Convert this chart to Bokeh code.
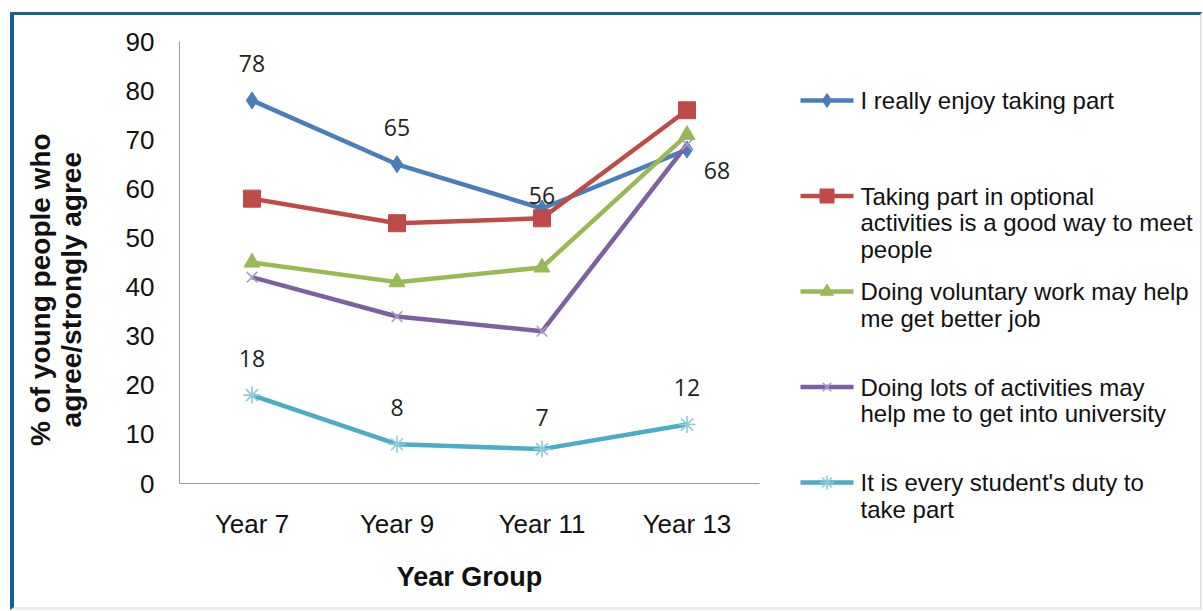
from bokeh.plotting import figure
from bokeh.models import FactorRange, Range1d, FixedTicker, ColumnDataSource
from bokeh.layouts import row
from bokeh.core.properties import value
from bokeh.embed import file_html
from bokeh.resources import INLINE

# ---------------- data ----------------
categories = ["Year 7", "Year 9", "Year 11", "Year 13"]
enjoy = [78, 65, 56, 68]
meet_people = [58, 53, 54, 76]
better_job = [45, 41, 44, 71]
university = [42, 34, 31, 69]
duty = [18, 8, 7, 12]
y_ticks = [0, 10, 20, 30, 40, 50, 60, 70, 80, 90]
series_names = [
    "I really enjoy taking part",
    "Taking part in optional\nactivities is a good way to meet\npeople",
    "Doing voluntary work may help\nme get better job",
    "Doing lots of activities may\nhelp me to get into university",
    "It is every student's duty to\ntake part",
]
y_title_lines = ["% of young people who", "agree/strongly agree"]
x_title = "Year Group"

# ---------------- styles ----------------
line_colors = ["#4A7EBB", "#BE4B48", "#98B954", "#7D60A0", "#4BACC6"]
marker_types = ["diamond", "square", "triangle", "x", "asterisk"]
marker_fill = ["#4A7EBB", "#BE4B48", "#98B954", None, None]
marker_line = ["#4A7EBB", "#BE4B48", "#98B954", "#A99BC5", "#8DCADB"]
marker_size = [17, 17, 16, 15, 17]
marker_lw = [1, 1, 1, 1.6, 1.6]
series = [enjoy, meet_people, better_job, university, duty]

FONT = "Liberation Sans"
TXT = "#111111"

FR_L, FR_R, FR_T, FR_B = 179, 758.5, 41, 483
SPLIT = 775  # page x where the legend panel starts


def no_align(fig):
    if "frame_align" in fig.properties():
        fig.frame_align = False


p = figure(
    x_range=FactorRange(*categories, range_padding=0),
    y_range=Range1d(0, 90),
    width=SPLIT - 14, height=592,
    output_backend="svg", toolbar_location=None,
    min_border_left=FR_L - 14, min_border_right=int(SPLIT - FR_R),
    min_border_top=FR_T - 15, min_border_bottom=int(607 - FR_B),
)
no_align(p)
p.outline_line_color = None
p.xgrid.grid_line_color = None
p.ygrid.grid_line_color = None

for vals, lc, mt, mf, ml, ms, mlw in zip(series, line_colors, marker_types,
                                         marker_fill, marker_line, marker_size, marker_lw):
    p.line(categories, vals, line_color=lc, line_width=4.5, line_join="round")
    p.scatter(categories, vals, marker=mt, size=ms, fill_color=mf,
              line_color=ml, line_width=mlw)

# data labels for the first and last series
lab_x = categories + categories
lab_y = enjoy + duty
lab_txt = [str(v) for v in enjoy + duty]
x_off = [0, 0, 0, 30, 0, 0, 0, 0]
y_off = [-37, -37, -13, 21, -37, -37, -32, -37]
src = ColumnDataSource(dict(x=lab_x, y=lab_y, t=lab_txt, xo=x_off, yo=y_off))
p.text(x="x", y="y", text="t", source=src, x_offset="xo", y_offset="yo",
       text_align="center", text_baseline="middle",
       text_font=value("Open Sans"), text_font_size="23px", text_color="#222222")

# axes
p.yaxis.ticker = FixedTicker(ticks=y_ticks)
for ax in (p.xaxis[0], p.yaxis[0]):
    ax.axis_line_color = "#9A9A9A"
    ax.axis_line_width = 1
    ax.major_tick_line_color = None
    ax.minor_tick_line_color = None
    ax.major_tick_out = 0
    ax.major_tick_in = 0
    ax.minor_tick_out = 0
    ax.minor_tick_in = 0
    ax.major_label_text_font = FONT
    ax.major_label_text_font_size = "26px"
    ax.major_label_text_color = TXT
    ax.axis_label_text_font = FONT
    ax.axis_label_text_font_style = "bold"
    ax.axis_label_text_color = TXT
    ax.axis_label_text_line_height = 1.0

p.yaxis.major_label_standoff = 25
p.xaxis.major_label_standoff = 25
# trailing no-break spaces nudge the rotated title slightly down, as in the original
pad = "\u00a0" * 7
p.yaxis.axis_label = "\n".join(t + pad for t in y_title_lines)
p.yaxis.axis_label_text_font_size = "28px"
p.yaxis.axis_label_standoff = 36
p.xaxis.axis_label = x_title
p.xaxis.axis_label_text_font_size = "27px"
p.xaxis.axis_label_standoff = 20

# ---------------- legend panel (its own figure, 1 unit = 1 page pixel) ----------------
q = figure(
    x_range=Range1d(SPLIT, 1200), y_range=Range1d(607, 15),
    width=1200 - SPLIT, height=592,
    x_axis_location=None, y_axis_location=None,
    output_backend="svg", toolbar_location=None,
    min_border=0,
)
no_align(q)
q.grid.visible = False
q.outline_line_color = None

first_line_y = 100
item_step = 95.5
line_step = 26.5
for i, name in enumerate(series_names):
    y0 = first_line_y + i * item_step
    q.line([800, 853], [y0, y0], line_color=line_colors[i], line_width=4.5)
    q.scatter([826.5], [y0], marker=marker_types[i], size=marker_size[i] - 3,
              fill_color=marker_fill[i], line_color=marker_line[i], line_width=marker_lw[i])
    lines = name.split("\n")
    q.text(x=[860] * len(lines), y=[y0 + k * line_step for k in range(len(lines))],
           text=lines, text_align="left", text_baseline="middle",
           text_font=value(FONT), text_font_size="24px", text_color=TXT)

layout = row(
    p, q,
    margin=(12, 0, 0, 10),
    styles={
        "border-top": "3px solid #16618E",
        "border-left": "4px solid #16618E",
        "border-right": "2px solid #E4E4E4",
        "border-bottom": "3px solid #ECECEC",
    },
)

open("out.html", "w").write(file_html(layout, INLINE))
